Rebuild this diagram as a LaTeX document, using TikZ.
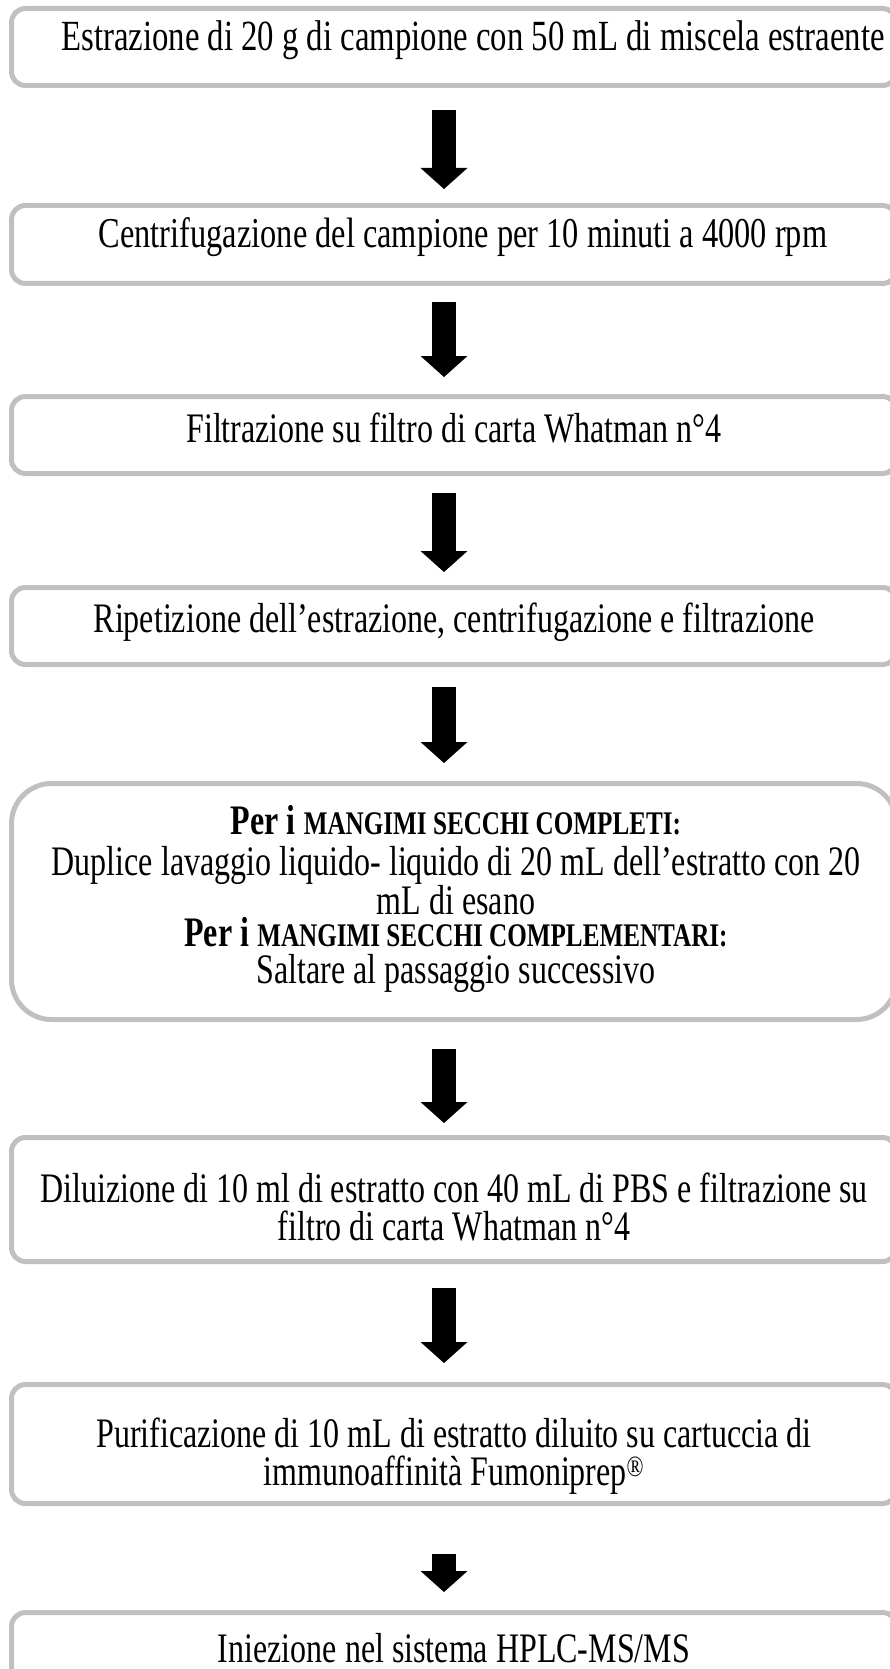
\documentclass[tikz,border=0pt]{standalone}
\usepackage{fontspec}
\setmainfont{Liberation Serif}[FakeStretch=0.762]
\usetikzlibrary{arrows.meta,calc}
\definecolor{boxgray}{RGB}{192,192,192}
\begin{document}
\begin{tikzpicture}[x=1pt,y=-1pt,
  stepbox/.style={draw=boxgray, line width=5pt, rounded corners=14pt, minimum width=885pt, inner sep=0pt},
  bigbox/.style={stepbox, rounded corners=40pt},
  txt/.style={align=center, font=\fontsize{42}{38}\selectfont, inner sep=0pt},
  flow/.style={line width=24pt, -{Triangle[width=47pt,length=21pt,line width=0pt]}},
]
\useasboundingbox (0,0) rectangle (890,1669);
\clip (0,0) rectangle (890,1669);
\coordinate (ax) at (444,0);

% boxes
\node[stepbox, minimum height=77pt] (b1) at (454,47) {};
\node[stepbox, minimum height=78pt] (b2) at (454,244.5) {};
\node[stepbox, minimum height=77pt] (b3) at (454,435) {};
\node[stepbox, minimum height=77pt] (b4) at (454,626) {};
\node[bigbox, minimum height=236pt] (b5) at (454,901.5) {};
\node[stepbox, minimum height=124pt] (b6) at (454,1199.5) {};
\node[stepbox, minimum height=119pt] (b7) at (454,1444) {};
\node[stepbox, minimum height=169pt] (b8) at (454,1697) {};

% texts
\node[txt, font=\fontsize{43}{38}\selectfont] (t1) at (473,40) {Estrazione di 20 g di campione con 50 mL di miscela estraente};
\node[txt, font=\fontsize{42.5}{38}\selectfont] (t2) at (463,237) {Centrifugazione del campione per 10 minuti a 4000 rpm};
\node[txt] (t3) at (454,428) {Filtrazione su filtro di carta Whatman n°4};
\node[txt] (t4) at (454,622) {Ripetizione dell’estrazione, centrifugazione e filtrazione};
\node[txt, font=\fontsize{42}{37}\selectfont] (t5) at (456,899) {%
  {\bfseries Per i {\fontsize{33}{37}\selectfont MANGIMI SECCHI COMPLETI:}}\\[4pt]
  Duplice lavaggio liquido-\hspace{0.2em}liquido di 20 mL dell’estratto con 20\\
  mL di esano\\[-5pt]
  {\bfseries Per i {\fontsize{33}{37}\selectfont MANGIMI SECCHI COMPLEMENTARI:}}\\[0pt]
  Saltare al passaggio successivo};
\node[txt] (t6) at (454,1207) {Diluizione di 10 ml di estratto con 40 mL di PBS e filtrazione su\\filtro di carta Whatman n°4};
\node[txt] (t7) at (454,1456) {Purificazione di 10 mL di estratto diluito su cartuccia di\\immunoaffinità Fumoniprep\textsuperscript{®}};
\node[txt] (t8) at (454,1648) {Iniezione nel sistema HPLC-MS/MS};

% arrows
\draw[flow] ($(b1.south -| ax)+(0,22)$) -- ($(b2.north -| ax)+(0,-14)$);
\draw[flow] ($(b2.south -| ax)+(0,16)$) -- ($(b3.north -| ax)+(0,-17)$);
\draw[flow] ($(b3.south -| ax)+(0,17)$) -- ($(b4.north -| ax)+(0,-13)$);
\draw[flow] ($(b4.south -| ax)+(0,20)$) -- ($(b5.north -| ax)+(0,-18)$);
\draw[flow] ($(b5.south -| ax)+(0,27)$) -- ($(b6.north -| ax)+(0,-12)$);
\draw[flow] ($(b6.south -| ax)+(0,24)$) -- ($(b7.north -| ax)+(0,-19)$);
\draw[flow] ($(b7.south -| ax)+(0,48)$) -- ($(b8.north -| ax)+(0,-18)$);
\end{tikzpicture}
\end{document}
